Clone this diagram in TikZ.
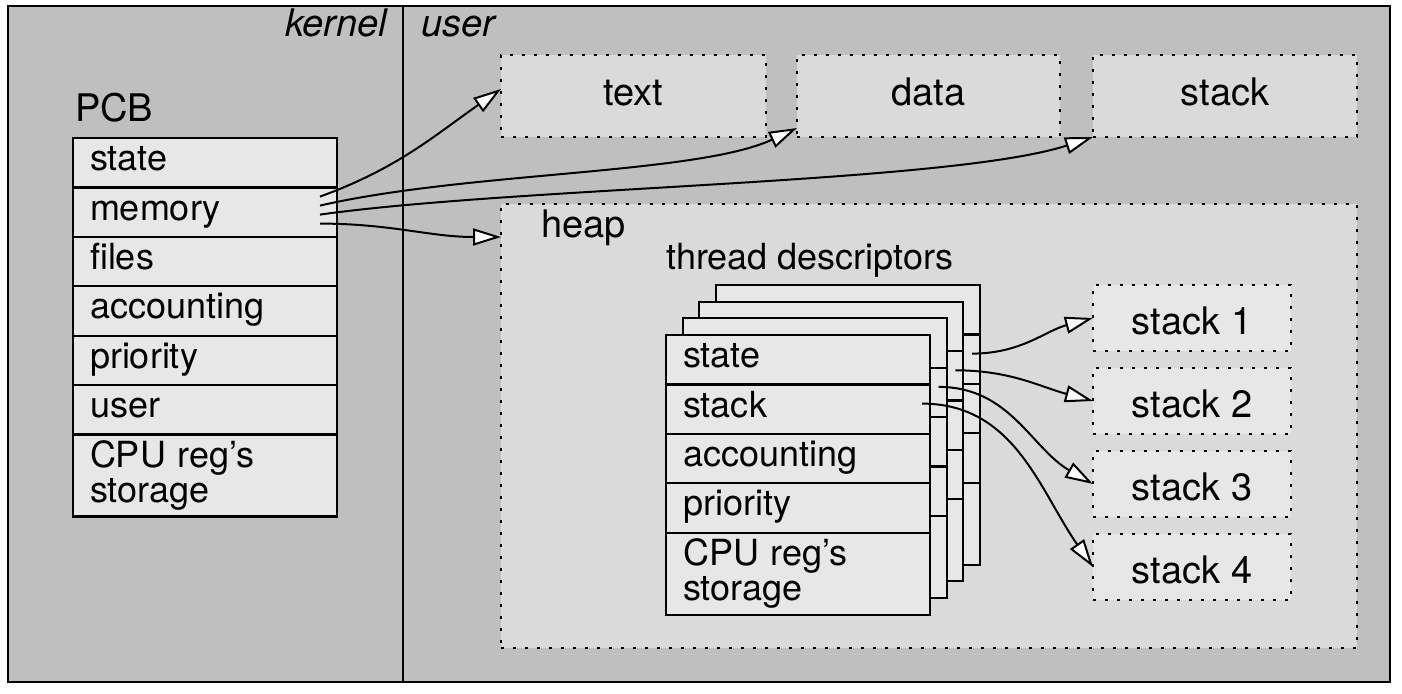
\documentclass[tikz,border=0pt]{standalone}
\usepackage{fontspec}
\setmainfont{TeX Gyre Heros}
\usetikzlibrary{positioning,arrows.meta}

\definecolor{bggray}{gray}{0.75}
\definecolor{boxgray}{gray}{0.855}
\definecolor{cellgray}{gray}{0.905}
\newcommand\tdfont{\fontsize{36}{35}\selectfont}
\newcommand\lblfont{\fontsize{38}{40}\selectfont}

\begin{document}
\begin{tikzpicture}[x=1pt, y=-1pt, >={Triangle[length=28pt, width=17pt, fill=white]},
    region/.style={draw, fill=bggray, line width=2pt, inner sep=0pt, outer sep=0pt},
    cell/.style={draw, fill=cellgray, line width=2.2pt, minimum width=264pt, minimum height=49.4pt,
      text width=230pt, text height=25pt, text depth=9pt, align=left, inner sep=0pt, outer sep=0pt, font=\tdfont},
    cpucell/.style={cell, minimum height=82pt, text height={}, text depth={}},
    seg/.style={draw, fill=boxgray, line width=2.6pt, dash pattern=on 2.6pt off 9.4pt,
      inner sep=0pt, outer sep=0pt, text height=27pt, text depth=9pt, font=\lblfont},
    stkbox/.style={seg, fill=cellgray, minimum width=198pt, minimum height=66pt, text height=41pt},
    lbl/.style={inner sep=0pt, font=\lblfont},
    link/.style={->, line width=2pt}]

  \useasboundingbox (0,0) rectangle (1402,693);

  % Address spaces
  \node[region, anchor=north west, minimum width=395pt, minimum height=676pt] (kernel) at (8,6) {};
  \node[region, anchor=north west, minimum width=987pt, minimum height=676pt] (user) at (kernel.north east) {};
  \node[lbl, font=\lblfont\itshape, anchor=base east] at (387,37) {kernel};
  \node[lbl, font=\lblfont\itshape, anchor=base west] at (421,37) {user};

  % Segments
  \node[seg, anchor=north west, minimum width=265pt, minimum height=82pt] (text) at (501,55) {text};
  \node[seg, minimum width=263pt, minimum height=82pt, right=31pt of text] (data) {data};
  \node[seg, minimum width=264pt, minimum height=82pt, right=33pt of data] (stack) {stack};
  \node[seg, anchor=north west, minimum width=856pt, minimum height=444pt] (heap) at (501,204) {};
  \node[lbl, anchor=base west] at (541,237) {heap};
  \node[lbl, font=\tdfont, anchor=base west] at (666,269) {thread descriptors};

  % PCB
  \node[lbl, anchor=base west] at (75,121) {PCB};
  \node[cell, anchor=north west] (pcb-state) at (73,138) {state};
  \node[cell, below=0pt of pcb-state] (pcb-memory) {memory};
  \node[cell, below=0pt of pcb-memory] (pcb-files) {files};
  \node[cell, below=0pt of pcb-files] (pcb-acct) {accounting};
  \node[cell, below=0pt of pcb-acct] (pcb-prio) {priority};
  \node[cell, below=0pt of pcb-prio] (pcb-user) {user};
  \node[cpucell, below=0pt of pcb-user] (pcb-cpu) {CPU reg’s\\storage};

  % Thread descriptors, hidden copies (back to front)
  \foreach \i/\off in {3/50,2/33.3,1/16.7} {
    \node[cell, anchor=north west] (td\i-state) at (666+\off,335-\off) {};
    \node[cell, below=0pt of td\i-state] (td\i-stack) {};
    \node[cell, below=0pt of td\i-stack] (td\i-acct) {};
    \node[cell, below=0pt of td\i-acct] (td\i-prio) {};
    \node[cpucell, below=0pt of td\i-prio] (td\i-cpu) {};
  }

  % Front thread descriptor
  \node[cell, anchor=north west] (td0-state) at (666,335) {state};
  \node[cell, below=0pt of td0-state] (td0-stack) {stack};
  \node[cell, below=0pt of td0-stack] (td0-acct) {accounting};
  \node[cell, below=0pt of td0-acct] (td0-prio) {priority};
  \node[cpucell, below=0pt of td0-prio] (td0-cpu) {CPU reg’s\\storage};

  % Thread stacks
  \node[stkbox, anchor=north west] (stk1) at (1093,285) {stack 1};
  \node[stkbox, below=17pt of stk1] (stk2) {stack 2};
  \node[stkbox, below=17pt of stk2] (stk3) {stack 3};
  \node[stkbox, below=17pt of stk3] (stk4) {stack 4};

  % Memory links
  \draw[link] ([shift={(-17pt,15.5pt)}]pcb-memory.east) to[out=20, in=215] ([yshift=7pt]text.west);
  \draw[link] ([shift={(-17pt,6.5pt)}]pcb-memory.east)
    to[out=13, in=205, out distance=150pt, in distance=110pt] ([yshift=9pt]data.south west);
  \draw[link] ([shift={(-17pt,-2.5pt)}]pcb-memory.east)
    to[out=8, in=198, out distance=200pt, in distance=150pt] (stack.south west);
  \draw[link] ([shift={(-17pt,-11.5pt)}]pcb-memory.east) to[out=0, in=180] ([yshift=-33pt]heap.north west);

  % Stack links
  \draw[link] ([shift={(-8pt,5.5pt)}]td3-stack.east) to[out=0, in=195] (stk1.west);
  \draw[link] ([shift={(-8pt,5.5pt)}]td2-stack.east) to[out=0, in=165] (stk2.west);
  \draw[link] ([shift={(-8pt,5.5pt)}]td1-stack.east) to[out=0, in=150] (stk3.west);
  \draw[link] ([shift={(-8pt,5.5pt)}]td0-stack.east) to[out=0, in=125] (stk4.west);
\end{tikzpicture}
\end{document}
